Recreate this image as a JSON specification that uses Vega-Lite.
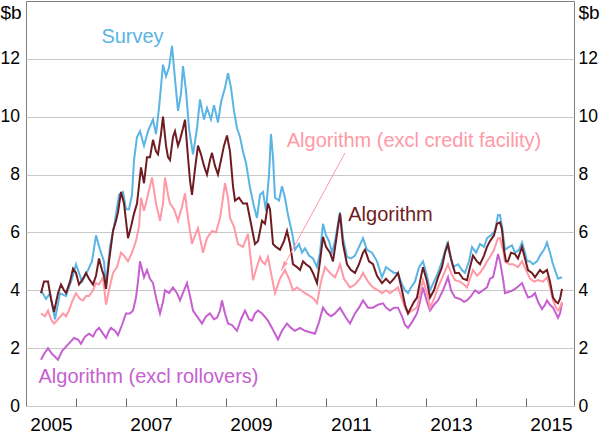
{
"$schema": "https://vega.github.io/schema/vega-lite/v6.json",
"width": 548, "height": 405,
"autosize": {"type": "none"},
"padding": {"left": 26, "top": 1, "right": 26, "bottom": 27},
"background": "white",
"config": {"view": {"stroke": "#808080", "strokeWidth": 1}, "font": "Liberation Sans"},
"datasets": {
"survey": [{"x":2005.30,"y":4.0},{"x":2005.40,"y":3.7},{"x":2005.48,"y":3.9},{"x":2005.58,"y":3.0},{"x":2005.68,"y":3.9},{"x":2005.80,"y":3.8},{"x":2005.92,"y":4.4},{"x":2006.00,"y":4.9},{"x":2006.12,"y":4.3},{"x":2006.24,"y":4.7},{"x":2006.32,"y":5.0},{"x":2006.40,"y":5.9},{"x":2006.48,"y":5.4},{"x":2006.56,"y":5.0},{"x":2006.60,"y":4.2},{"x":2006.68,"y":5.5},{"x":2006.78,"y":6.4},{"x":2006.86,"y":7.3},{"x":2006.94,"y":7.4},{"x":2007.00,"y":6.8},{"x":2007.06,"y":6.8},{"x":2007.12,"y":7.3},{"x":2007.16,"y":8.5},{"x":2007.22,"y":9.3},{"x":2007.28,"y":9.5},{"x":2007.36,"y":9.0},{"x":2007.44,"y":9.5},{"x":2007.54,"y":9.9},{"x":2007.60,"y":9.4},{"x":2007.66,"y":10.3},{"x":2007.74,"y":11.8},{"x":2007.80,"y":11.4},{"x":2007.86,"y":11.7},{"x":2007.92,"y":12.45},{"x":2007.98,"y":11.3},{"x":2008.04,"y":10.2},{"x":2008.10,"y":10.8},{"x":2008.14,"y":11.75},{"x":2008.20,"y":10.9},{"x":2008.26,"y":9.6},{"x":2008.34,"y":8.7},{"x":2008.42,"y":9.6},{"x":2008.48,"y":10.6},{"x":2008.56,"y":9.9},{"x":2008.62,"y":10.3},{"x":2008.70,"y":9.9},{"x":2008.76,"y":10.4},{"x":2008.84,"y":9.8},{"x":2008.90,"y":10.5},{"x":2008.98,"y":11.0},{"x":2009.04,"y":11.5},{"x":2009.10,"y":11.0},{"x":2009.16,"y":10.2},{"x":2009.22,"y":9.6},{"x":2009.28,"y":9.3},{"x":2009.34,"y":8.8},{"x":2009.40,"y":8.4},{"x":2009.48,"y":7.55},{"x":2009.56,"y":6.9},{"x":2009.62,"y":6.5},{"x":2009.68,"y":7.3},{"x":2009.74,"y":7.4},{"x":2009.80,"y":6.75},{"x":2009.86,"y":8.0},{"x":2009.90,"y":9.4},{"x":2009.94,"y":8.6},{"x":2009.98,"y":7.2},{"x":2010.06,"y":7.1},{"x":2010.12,"y":7.6},{"x":2010.18,"y":7.2},{"x":2010.24,"y":6.6},{"x":2010.32,"y":6.0},{"x":2010.38,"y":5.4},{"x":2010.46,"y":5.6},{"x":2010.52,"y":5.3},{"x":2010.58,"y":5.45},{"x":2010.66,"y":5.2},{"x":2010.74,"y":5.1},{"x":2010.82,"y":4.8},{"x":2010.88,"y":5.3},{"x":2010.94,"y":6.3},{"x":2011.00,"y":5.9},{"x":2011.06,"y":5.7},{"x":2011.12,"y":5.3},{"x":2011.18,"y":5.7},{"x":2011.24,"y":6.3},{"x":2011.28,"y":6.7},{"x":2011.34,"y":5.8},{"x":2011.42,"y":5.15},{"x":2011.50,"y":5.1},{"x":2011.58,"y":5.2},{"x":2011.66,"y":5.5},{"x":2011.74,"y":5.8},{"x":2011.82,"y":5.4},{"x":2011.92,"y":5.3},{"x":2012.02,"y":5.0},{"x":2012.12,"y":4.45},{"x":2012.20,"y":4.8},{"x":2012.28,"y":4.7},{"x":2012.36,"y":4.6},{"x":2012.44,"y":4.6},{"x":2012.52,"y":4.2},{"x":2012.58,"y":4.0},{"x":2012.64,"y":3.9},{"x":2012.70,"y":4.1},{"x":2012.78,"y":4.3},{"x":2012.86,"y":4.8},{"x":2012.94,"y":5.0},{"x":2013.02,"y":4.5},{"x":2013.08,"y":4.0},{"x":2013.16,"y":4.3},{"x":2013.24,"y":4.6},{"x":2013.32,"y":5.0},{"x":2013.42,"y":5.6},{"x":2013.48,"y":5.2},{"x":2013.54,"y":4.8},{"x":2013.64,"y":4.9},{"x":2013.72,"y":4.7},{"x":2013.78,"y":4.6},{"x":2013.86,"y":5.0},{"x":2013.92,"y":5.5},{"x":2014.00,"y":5.3},{"x":2014.08,"y":5.6},{"x":2014.16,"y":5.5},{"x":2014.22,"y":5.8},{"x":2014.30,"y":5.9},{"x":2014.38,"y":6.05},{"x":2014.44,"y":6.6},{"x":2014.48,"y":6.6},{"x":2014.52,"y":6.2},{"x":2014.58,"y":5.4},{"x":2014.66,"y":5.5},{"x":2014.72,"y":5.55},{"x":2014.78,"y":5.3},{"x":2014.86,"y":5.4},{"x":2014.92,"y":5.65},{"x":2014.98,"y":5.3},{"x":2015.02,"y":5.0},{"x":2015.08,"y":5.0},{"x":2015.14,"y":4.9},{"x":2015.22,"y":5.0},{"x":2015.28,"y":5.2},{"x":2015.36,"y":5.4},{"x":2015.42,"y":5.65},{"x":2015.48,"y":5.3},{"x":2015.54,"y":4.9},{"x":2015.60,"y":4.6},{"x":2015.64,"y":4.4},{"x":2015.72,"y":4.45}],
"algo": [{"x":2005.30,"y":3.9},{"x":2005.36,"y":4.3},{"x":2005.44,"y":4.3},{"x":2005.50,"y":3.7},{"x":2005.56,"y":3.25},{"x":2005.64,"y":3.9},{"x":2005.70,"y":4.2},{"x":2005.76,"y":4.0},{"x":2005.80,"y":3.9},{"x":2005.88,"y":4.3},{"x":2005.94,"y":4.75},{"x":2006.00,"y":4.6},{"x":2006.06,"y":4.2},{"x":2006.14,"y":4.4},{"x":2006.20,"y":4.6},{"x":2006.26,"y":4.4},{"x":2006.34,"y":4.2},{"x":2006.40,"y":4.5},{"x":2006.46,"y":5.1},{"x":2006.52,"y":4.7},{"x":2006.56,"y":4.5},{"x":2006.60,"y":4.05},{"x":2006.66,"y":5.0},{"x":2006.74,"y":6.05},{"x":2006.80,"y":6.4},{"x":2006.84,"y":6.7},{"x":2006.90,"y":7.4},{"x":2006.96,"y":7.0},{"x":2007.04,"y":5.8},{"x":2007.10,"y":6.2},{"x":2007.16,"y":6.65},{"x":2007.22,"y":7.0},{"x":2007.30,"y":8.25},{"x":2007.36,"y":7.7},{"x":2007.42,"y":8.6},{"x":2007.48,"y":8.6},{"x":2007.54,"y":9.2},{"x":2007.60,"y":8.8},{"x":2007.64,"y":8.7},{"x":2007.70,"y":9.4},{"x":2007.74,"y":10.0},{"x":2007.80,"y":9.0},{"x":2007.84,"y":8.6},{"x":2007.88,"y":8.5},{"x":2007.94,"y":9.3},{"x":2007.98,"y":9.5},{"x":2008.04,"y":9.0},{"x":2008.08,"y":9.2},{"x":2008.14,"y":9.6},{"x":2008.18,"y":9.9},{"x":2008.24,"y":8.6},{"x":2008.28,"y":7.8},{"x":2008.32,"y":7.3},{"x":2008.38,"y":8.2},{"x":2008.44,"y":9.0},{"x":2008.50,"y":8.7},{"x":2008.56,"y":8.3},{"x":2008.62,"y":8.0},{"x":2008.68,"y":8.5},{"x":2008.72,"y":8.75},{"x":2008.78,"y":8.3},{"x":2008.84,"y":8.0},{"x":2008.90,"y":8.5},{"x":2008.96,"y":9.0},{"x":2009.02,"y":9.35},{"x":2009.08,"y":8.8},{"x":2009.14,"y":7.6},{"x":2009.18,"y":7.1},{"x":2009.26,"y":7.2},{"x":2009.34,"y":7.0},{"x":2009.42,"y":7.0},{"x":2009.50,"y":6.3},{"x":2009.58,"y":5.6},{"x":2009.64,"y":5.7},{"x":2009.68,"y":6.05},{"x":2009.72,"y":6.4},{"x":2009.78,"y":6.3},{"x":2009.84,"y":7.0},{"x":2009.88,"y":6.8},{"x":2009.94,"y":5.6},{"x":2010.00,"y":5.5},{"x":2010.08,"y":5.4},{"x":2010.16,"y":5.7},{"x":2010.22,"y":6.05},{"x":2010.28,"y":5.6},{"x":2010.34,"y":4.9},{"x":2010.42,"y":4.8},{"x":2010.48,"y":4.7},{"x":2010.54,"y":5.0},{"x":2010.60,"y":4.9},{"x":2010.68,"y":4.8},{"x":2010.74,"y":4.6},{"x":2010.82,"y":4.25},{"x":2010.88,"y":5.0},{"x":2010.94,"y":5.85},{"x":2011.00,"y":5.5},{"x":2011.08,"y":5.3},{"x":2011.14,"y":5.0},{"x":2011.20,"y":5.7},{"x":2011.24,"y":6.2},{"x":2011.28,"y":6.65},{"x":2011.34,"y":5.6},{"x":2011.42,"y":4.9},{"x":2011.50,"y":4.7},{"x":2011.58,"y":4.6},{"x":2011.66,"y":4.9},{"x":2011.74,"y":5.3},{"x":2011.78,"y":5.4},{"x":2011.86,"y":5.0},{"x":2011.94,"y":4.9},{"x":2012.02,"y":4.5},{"x":2012.12,"y":4.25},{"x":2012.20,"y":4.4},{"x":2012.28,"y":4.25},{"x":2012.36,"y":4.4},{"x":2012.44,"y":4.6},{"x":2012.52,"y":4.0},{"x":2012.58,"y":3.5},{"x":2012.64,"y":3.2},{"x":2012.70,"y":3.4},{"x":2012.76,"y":3.6},{"x":2012.82,"y":3.75},{"x":2012.88,"y":4.3},{"x":2012.94,"y":4.8},{"x":2013.02,"y":4.3},{"x":2013.08,"y":3.75},{"x":2013.16,"y":4.0},{"x":2013.24,"y":4.45},{"x":2013.32,"y":4.8},{"x":2013.38,"y":5.3},{"x":2013.44,"y":5.6},{"x":2013.50,"y":5.1},{"x":2013.58,"y":4.6},{"x":2013.66,"y":4.6},{"x":2013.74,"y":4.4},{"x":2013.82,"y":4.35},{"x":2013.88,"y":4.8},{"x":2013.94,"y":5.2},{"x":2014.02,"y":5.0},{"x":2014.08,"y":4.9},{"x":2014.16,"y":5.2},{"x":2014.22,"y":5.5},{"x":2014.28,"y":5.7},{"x":2014.36,"y":5.9},{"x":2014.42,"y":6.3},{"x":2014.48,"y":6.35},{"x":2014.52,"y":6.1},{"x":2014.56,"y":5.4},{"x":2014.60,"y":5.0},{"x":2014.64,"y":5.0},{"x":2014.70,"y":5.3},{"x":2014.78,"y":5.25},{"x":2014.84,"y":5.1},{"x":2014.92,"y":5.5},{"x":2014.98,"y":5.1},{"x":2015.04,"y":4.7},{"x":2015.12,"y":4.6},{"x":2015.18,"y":4.45},{"x":2015.24,"y":4.6},{"x":2015.28,"y":4.7},{"x":2015.34,"y":4.6},{"x":2015.42,"y":4.7},{"x":2015.48,"y":4.3},{"x":2015.54,"y":3.75},{"x":2015.60,"y":3.6},{"x":2015.64,"y":3.55},{"x":2015.68,"y":3.7},{"x":2015.72,"y":4.05}],
"credit": [{"x":2005.30,"y":3.2},{"x":2005.38,"y":3.1},{"x":2005.44,"y":3.3},{"x":2005.50,"y":3.0},{"x":2005.56,"y":2.85},{"x":2005.64,"y":3.0},{"x":2005.74,"y":3.2},{"x":2005.80,"y":3.1},{"x":2005.86,"y":3.3},{"x":2005.92,"y":3.6},{"x":2006.00,"y":3.9},{"x":2006.08,"y":3.7},{"x":2006.14,"y":3.65},{"x":2006.20,"y":3.8},{"x":2006.26,"y":3.8},{"x":2006.34,"y":4.0},{"x":2006.40,"y":4.25},{"x":2006.46,"y":4.2},{"x":2006.54,"y":4.45},{"x":2006.60,"y":3.5},{"x":2006.66,"y":4.0},{"x":2006.74,"y":4.6},{"x":2006.82,"y":4.8},{"x":2006.90,"y":5.3},{"x":2006.96,"y":5.2},{"x":2007.04,"y":5.0},{"x":2007.12,"y":5.3},{"x":2007.20,"y":5.7},{"x":2007.26,"y":6.2},{"x":2007.30,"y":7.2},{"x":2007.36,"y":6.75},{"x":2007.44,"y":7.3},{"x":2007.52,"y":7.9},{"x":2007.60,"y":7.0},{"x":2007.68,"y":6.4},{"x":2007.74,"y":7.0},{"x":2007.78,"y":7.9},{"x":2007.84,"y":7.3},{"x":2007.88,"y":7.0},{"x":2007.96,"y":6.8},{"x":2008.04,"y":6.4},{"x":2008.12,"y":6.9},{"x":2008.18,"y":7.35},{"x":2008.24,"y":6.5},{"x":2008.32,"y":5.6},{"x":2008.38,"y":5.9},{"x":2008.44,"y":6.15},{"x":2008.54,"y":5.3},{"x":2008.62,"y":5.8},{"x":2008.72,"y":6.05},{"x":2008.80,"y":6.0},{"x":2008.88,"y":6.5},{"x":2008.94,"y":7.2},{"x":2008.98,"y":7.7},{"x":2009.04,"y":7.2},{"x":2009.08,"y":6.5},{"x":2009.16,"y":6.2},{"x":2009.24,"y":5.6},{"x":2009.34,"y":5.5},{"x":2009.44,"y":5.95},{"x":2009.50,"y":5.0},{"x":2009.54,"y":4.35},{"x":2009.60,"y":4.7},{"x":2009.68,"y":5.15},{"x":2009.72,"y":5.0},{"x":2009.78,"y":4.9},{"x":2009.84,"y":5.15},{"x":2009.90,"y":4.6},{"x":2009.98,"y":3.9},{"x":2010.08,"y":4.4},{"x":2010.18,"y":4.7},{"x":2010.26,"y":4.4},{"x":2010.34,"y":4.0},{"x":2010.42,"y":4.1},{"x":2010.50,"y":4.0},{"x":2010.58,"y":3.9},{"x":2010.68,"y":3.8},{"x":2010.76,"y":3.7},{"x":2010.82,"y":3.55},{"x":2010.90,"y":4.3},{"x":2010.98,"y":4.8},{"x":2011.08,"y":4.6},{"x":2011.18,"y":4.45},{"x":2011.24,"y":4.7},{"x":2011.28,"y":4.9},{"x":2011.36,"y":4.4},{"x":2011.48,"y":4.1},{"x":2011.58,"y":4.2},{"x":2011.68,"y":4.4},{"x":2011.74,"y":4.6},{"x":2011.84,"y":4.3},{"x":2011.94,"y":4.1},{"x":2012.04,"y":4.0},{"x":2012.12,"y":3.9},{"x":2012.20,"y":4.0},{"x":2012.28,"y":3.9},{"x":2012.36,"y":4.0},{"x":2012.44,"y":4.1},{"x":2012.52,"y":3.7},{"x":2012.58,"y":3.4},{"x":2012.64,"y":3.2},{"x":2012.72,"y":3.3},{"x":2012.82,"y":3.4},{"x":2012.88,"y":3.9},{"x":2012.94,"y":4.35},{"x":2013.02,"y":3.9},{"x":2013.08,"y":3.4},{"x":2013.16,"y":3.7},{"x":2013.24,"y":4.1},{"x":2013.34,"y":4.5},{"x":2013.44,"y":4.9},{"x":2013.50,"y":4.6},{"x":2013.58,"y":4.35},{"x":2013.68,"y":4.3},{"x":2013.76,"y":4.2},{"x":2013.82,"y":4.1},{"x":2013.88,"y":4.4},{"x":2013.94,"y":4.7},{"x":2014.02,"y":4.5},{"x":2014.08,"y":4.6},{"x":2014.16,"y":4.8},{"x":2014.22,"y":5.0},{"x":2014.28,"y":5.15},{"x":2014.36,"y":5.4},{"x":2014.44,"y":5.8},{"x":2014.48,"y":5.8},{"x":2014.54,"y":5.4},{"x":2014.58,"y":5.0},{"x":2014.66,"y":4.9},{"x":2014.74,"y":4.9},{"x":2014.84,"y":4.8},{"x":2014.92,"y":5.0},{"x":2015.00,"y":4.7},{"x":2015.08,"y":4.4},{"x":2015.16,"y":4.3},{"x":2015.24,"y":4.35},{"x":2015.34,"y":4.3},{"x":2015.42,"y":4.45},{"x":2015.48,"y":4.1},{"x":2015.54,"y":3.65},{"x":2015.60,"y":3.4},{"x":2015.64,"y":3.3},{"x":2015.68,"y":3.4},{"x":2015.72,"y":3.6}],
"roll": [{"x":2005.30,"y":1.6},{"x":2005.36,"y":1.8},{"x":2005.44,"y":2.0},{"x":2005.52,"y":1.8},{"x":2005.58,"y":1.7},{"x":2005.64,"y":1.6},{"x":2005.72,"y":1.9},{"x":2005.80,"y":2.05},{"x":2005.88,"y":2.2},{"x":2005.96,"y":2.35},{"x":2006.04,"y":2.3},{"x":2006.10,"y":2.15},{"x":2006.18,"y":2.4},{"x":2006.26,"y":2.5},{"x":2006.34,"y":2.4},{"x":2006.40,"y":2.6},{"x":2006.46,"y":2.7},{"x":2006.54,"y":2.5},{"x":2006.60,"y":2.35},{"x":2006.66,"y":2.6},{"x":2006.70,"y":2.7},{"x":2006.78,"y":2.6},{"x":2006.84,"y":2.45},{"x":2006.92,"y":2.8},{"x":2007.00,"y":3.2},{"x":2007.08,"y":3.2},{"x":2007.14,"y":3.3},{"x":2007.20,"y":3.75},{"x":2007.24,"y":4.3},{"x":2007.28,"y":5.0},{"x":2007.36,"y":4.45},{"x":2007.42,"y":4.7},{"x":2007.48,"y":4.4},{"x":2007.54,"y":4.25},{"x":2007.62,"y":3.6},{"x":2007.68,"y":3.2},{"x":2007.74,"y":3.6},{"x":2007.78,"y":4.0},{"x":2007.86,"y":3.9},{"x":2007.94,"y":4.1},{"x":2008.02,"y":3.9},{"x":2008.08,"y":3.65},{"x":2008.16,"y":4.0},{"x":2008.22,"y":4.25},{"x":2008.28,"y":3.8},{"x":2008.34,"y":3.3},{"x":2008.42,"y":3.1},{"x":2008.52,"y":2.85},{"x":2008.60,"y":3.1},{"x":2008.68,"y":3.2},{"x":2008.76,"y":3.0},{"x":2008.82,"y":3.05},{"x":2008.88,"y":3.3},{"x":2008.92,"y":3.65},{"x":2008.98,"y":3.2},{"x":2009.04,"y":2.85},{"x":2009.12,"y":2.8},{"x":2009.22,"y":2.6},{"x":2009.30,"y":3.0},{"x":2009.38,"y":3.3},{"x":2009.46,"y":3.0},{"x":2009.52,"y":2.95},{"x":2009.58,"y":3.2},{"x":2009.64,"y":3.3},{"x":2009.72,"y":3.2},{"x":2009.84,"y":2.95},{"x":2009.92,"y":2.7},{"x":2009.98,"y":2.5},{"x":2010.04,"y":2.3},{"x":2010.12,"y":2.6},{"x":2010.22,"y":2.85},{"x":2010.30,"y":2.7},{"x":2010.38,"y":2.6},{"x":2010.48,"y":2.7},{"x":2010.58,"y":2.6},{"x":2010.68,"y":2.55},{"x":2010.78,"y":2.5},{"x":2010.86,"y":2.9},{"x":2010.94,"y":3.4},{"x":2011.02,"y":3.2},{"x":2011.10,"y":3.1},{"x":2011.18,"y":3.2},{"x":2011.28,"y":3.4},{"x":2011.38,"y":3.1},{"x":2011.48,"y":2.85},{"x":2011.58,"y":3.2},{"x":2011.66,"y":3.4},{"x":2011.74,"y":3.65},{"x":2011.84,"y":3.4},{"x":2011.94,"y":3.4},{"x":2012.04,"y":3.5},{"x":2012.14,"y":3.55},{"x":2012.20,"y":3.4},{"x":2012.28,"y":3.3},{"x":2012.36,"y":3.4},{"x":2012.44,"y":3.4},{"x":2012.52,"y":3.1},{"x":2012.58,"y":2.8},{"x":2012.64,"y":2.7},{"x":2012.72,"y":2.9},{"x":2012.82,"y":3.2},{"x":2012.88,"y":3.6},{"x":2012.94,"y":4.1},{"x":2013.02,"y":3.6},{"x":2013.08,"y":3.3},{"x":2013.16,"y":3.5},{"x":2013.24,"y":3.65},{"x":2013.34,"y":4.0},{"x":2013.44,"y":4.45},{"x":2013.50,"y":4.0},{"x":2013.58,"y":3.75},{"x":2013.68,"y":3.7},{"x":2013.76,"y":3.6},{"x":2013.82,"y":3.65},{"x":2013.90,"y":3.8},{"x":2013.98,"y":4.0},{"x":2014.06,"y":3.9},{"x":2014.14,"y":4.0},{"x":2014.22,"y":4.1},{"x":2014.28,"y":4.4},{"x":2014.34,"y":4.45},{"x":2014.40,"y":4.9},{"x":2014.44,"y":5.25},{"x":2014.48,"y":5.0},{"x":2014.54,"y":4.4},{"x":2014.58,"y":3.9},{"x":2014.66,"y":3.95},{"x":2014.74,"y":4.0},{"x":2014.82,"y":4.1},{"x":2014.92,"y":4.25},{"x":2014.98,"y":4.0},{"x":2015.04,"y":3.75},{"x":2015.12,"y":3.8},{"x":2015.18,"y":3.9},{"x":2015.24,"y":3.6},{"x":2015.32,"y":3.35},{"x":2015.38,"y":3.5},{"x":2015.42,"y":3.65},{"x":2015.48,"y":3.5},{"x":2015.54,"y":3.4},{"x":2015.60,"y":3.2},{"x":2015.64,"y":3.05},{"x":2015.68,"y":3.2},{"x":2015.72,"y":3.55}],
"labels": [{"x":2007.13,"y":12.76,"t":"Survey"},{"x":2012.76,"y":9.17,"t":"Algorithm (excl credit facility)"},{"x":2012.29,"y":6.59,"t":"Algorithm"},{"x":2007.45,"y":1.0,"t":"Algorithm (excl rollovers)"}],
"arrow": [{"x":2011.38,"y":8.75,"x2":2010.10,"y2":4.67}]
},
"encoding": {
"x": {"field": "x", "type": "quantitative",
 "scale": {"domain": [2005, 2015.96], "nice": false, "zero": false},
 "axis": {"values": [2005.5, 2006, 2007, 2007.5, 2008, 2009, 2009.5, 2010, 2011, 2011.5, 2012, 2013, 2013.5, 2014, 2015, 2015.5],
  "labelExpr": "datum.value % 1 != 0 ? format(floor(datum.value), 'd') : ''",
  "tickOpacity": {"condition": {"test": "datum.value % 1 == 0", "value": 1}, "value": 0},
  "tickSize": -8, "tickColor": "#666", "tickWidth": 1, "labelPadding": 17,
  "labelOverlap": false, "labelFlush": false, "labelBound": false,
  "grid": false, "domain": false, "title": null,
  "labelFontSize": 19, "labelColor": "#000", "labelFont": "Liberation Sans"}}
},
"layer": [
{"data": {"name": "survey"}, "mark": {"type": "line", "color": "#5ab4e4", "strokeWidth": 2},
 "encoding": {"y": {"field": "y", "type": "quantitative", "scale": {"domain": [0, 14], "nice": false},
  "axis": {"orient": "left", "values": [0, 2, 4, 6, 8, 10, 12], "grid": true, "gridColor": "#c8c8c8", "gridWidth": 1,
   "ticks": false, "domain": false, "labelPadding": 6.5, "labelFontSize": 17.5, "labelFont": "Liberation Sans", "labelColor": "#000",
   "title": "$b", "titleAngle": 0, "titleAlign": "left", "titleBaseline": "middle", "titleX": -26, "titleY": 11,
   "titleFontSize": 19, "titleFontWeight": "normal", "titleFont": "Liberation Sans", "titleColor": "#000"}}}},
{"data": {"name": "roll"}, "mark": {"type": "line", "color": "#c660d0", "strokeWidth": 2},
 "encoding": {"y": {"field": "y", "type": "quantitative", "scale": {"domain": [0, 14], "nice": false},
  "axis": {"orient": "right", "values": [0, 2, 4, 6, 8, 10, 12], "grid": false,
   "ticks": false, "domain": false, "labelPadding": 4, "labelFontSize": 17.5, "labelFont": "Liberation Sans", "labelColor": "#000",
   "title": "$b", "titleAngle": 0, "titleAlign": "left", "titleBaseline": "middle", "titleX": 4, "titleY": 11,
   "titleFontSize": 19, "titleFontWeight": "normal", "titleFont": "Liberation Sans", "titleColor": "#000"}}}},
{"data": {"name": "credit"}, "mark": {"type": "line", "color": "#ff99a6", "strokeWidth": 2},
 "encoding": {"y": {"field": "y", "type": "quantitative", "scale": {"domain": [0, 14], "nice": false}, "axis": null}}},
{"data": {"name": "algo"}, "mark": {"type": "line", "color": "#6e1c22", "strokeWidth": 2},
 "encoding": {"y": {"field": "y", "type": "quantitative", "scale": {"domain": [0, 14], "nice": false}, "axis": null}}},
{"data": {"name": "arrow"}, "mark": {"type": "rule", "color": "#ff99a6", "strokeWidth": 1},
 "encoding": {"y": {"field": "y", "type": "quantitative", "scale": {"domain": [0, 14], "nice": false}, "axis": null},
  "x2": {"field": "x2"}, "y2": {"field": "y2"}}},
{"data": {"name": "arrow"}, "mark": {"type": "point", "shape": "M0,0L0.45,2L-0.45,2Z", "filled": true, "size": 100, "angle": 208.6, "color": "#ff99a6", "opacity": 1},
 "encoding": {"x": {"field": "x2", "type": "quantitative"},
  "y": {"field": "y2", "type": "quantitative", "scale": {"domain": [0, 14], "nice": false}, "axis": null}}},
{"data": {"name": "labels"}, "mark": {"type": "text", "fontSize": 20, "font": "Liberation Sans", "align": "center", "baseline": "middle"},
 "encoding": {"y": {"field": "y", "type": "quantitative", "scale": {"domain": [0, 14], "nice": false}, "axis": null},
  "text": {"field": "t"},
  "color": {"field": "t", "type": "nominal", "legend": null,
   "scale": {"domain": ["Survey", "Algorithm (excl credit facility)", "Algorithm", "Algorithm (excl rollovers)"],
    "range": ["#5ab4e4", "#ff99a6", "#6e1c22", "#c660d0"]}}}}
],
"resolve": {"axis": {"y": "independent"}}
}
